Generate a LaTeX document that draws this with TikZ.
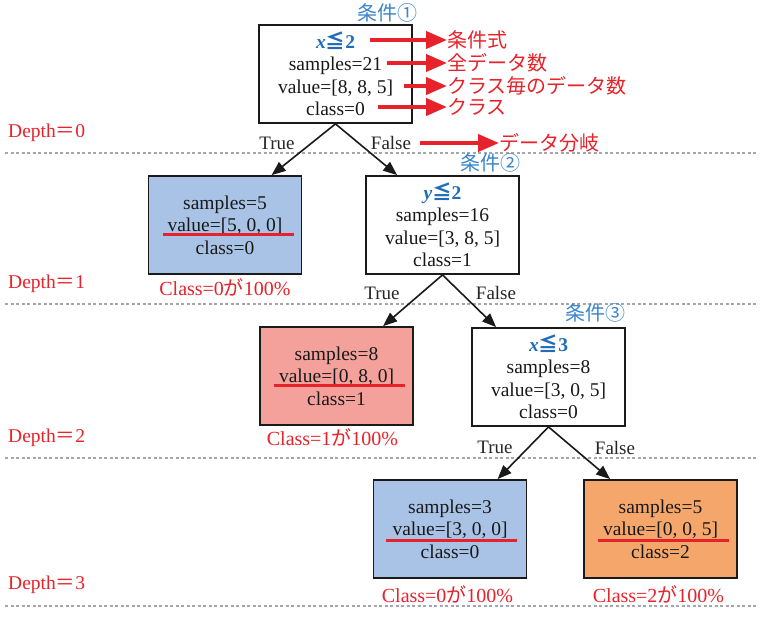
\documentclass[tikz,border=0pt]{standalone}
\usepackage{fontspec}
\setmainfont{Liberation Serif}
\newfontfamily\cjk{Noto Sans CJK JP}
\usetikzlibrary{arrows.meta}
\definecolor{annred}{HTML}{E8222A}
\definecolor{condblue}{HTML}{3A86CC}
\definecolor{formblue}{HTML}{1F6CB8}
\definecolor{leafblue}{HTML}{A9C3E6}
\definecolor{leafpink}{HTML}{F4A19B}
\definecolor{leaforange}{HTML}{F5A76B}
\definecolor{dashgray}{HTML}{A6A6A6}
\definecolor{boxline}{HTML}{1A1A1A}
\newcommand{\formula}[2]{{\color{formblue}\textbf{\textit{#1}}{\cjk\bfseries ≦}\textbf{#2}}}
\begin{document}
\begin{tikzpicture}[x=1pt,y=-1pt,
  treebox/.style={draw=boxline, line width=1.8pt, minimum width=153pt, minimum height=98pt,
    inner sep=0pt, align=center, font=\fontsize{19.5}{22.5}\selectfont, text=black!90},
  edge/.style={draw=boxline, line width=1.6pt, -{Triangle[length=14pt,width=11pt]}},
  annarrow/.style={draw=annred, line width=4pt, -{Triangle[length=21pt,width=17pt]}},
  annlabel/.style={anchor=west, inner sep=0pt, text=annred, font=\cjk\fontsize{20}{22}\selectfont},
  condlabel/.style={inner sep=0pt, text=condblue, font=\cjk\fontsize{20}{22}\selectfont},
  tflabel/.style={inner sep=0pt, text=black!85, font=\fontsize{19}{21}\selectfont},
  clslabel/.style={inner sep=0pt, text=annred, font=\fontsize{20}{22}\selectfont},
  depthlabel/.style={anchor=west, inner sep=0pt, text=annred, font=\fontsize{19.5}{21}\selectfont},
  uline/.style={draw=annred, line width=3pt},
  dashline/.style={draw=dashgray, line width=1.5pt, dash pattern=on 3pt off 2.5pt}
]
\useasboundingbox[fill=white] (0,0) rectangle (768,618);

% level separators
\draw[dashline] (5,153) -- (757,153);
\draw[dashline] (5,304) -- (757,304);
\draw[dashline] (5,458) -- (757,458);
\draw[dashline] (5,606) -- (757,606);

% depth labels
\node[depthlabel] (d0) at (8,133) {Depth{\cjk ＝}0};
\node[depthlabel] (d1) at (8,284) {Depth{\cjk ＝}1};
\node[depthlabel] (d2) at (8,438) {Depth{\cjk ＝}2};
\node[depthlabel] (d3) at (8,585) {Depth{\cjk ＝}3};

% tree nodes
\node[treebox] (root) at (335.5,74) {\formula{x}{2}\\samples=21\\value=[8, 8, 5]\\class=0};
\node[treebox, fill=leafblue] (l1) at (225,225) {samples=5\\value=[5, 0, 0]\\class=0};
\node[treebox] (n2) at (442.5,225) {\formula{y}{2}\\samples=16\\value=[3, 8, 5]\\class=1};
\node[treebox, fill=leafpink] (l2) at (336.5,376) {samples=8\\value=[0, 8, 0]\\class=1};
\node[treebox] (n3) at (548.5,377) {\formula{x}{3}\\samples=8\\value=[3, 0, 5]\\class=0};
\node[treebox, fill=leafblue] (l3) at (450,529) {samples=3\\value=[3, 0, 0]\\class=0};
\node[treebox, fill=leaforange] (l4) at (660.5,529) {samples=5\\value=[0, 0, 5]\\class=2};

% underlines
\draw[uline] ([xshift=-62pt,yshift=-9.5pt]l1.center) -- ([xshift=69pt,yshift=-9.5pt]l1.center);
\draw[uline] ([xshift=-63pt,yshift=-9pt]l2.center) -- ([xshift=68pt,yshift=-9pt]l2.center);
\draw[uline] ([xshift=-64pt,yshift=-11.5pt]l3.center) -- ([xshift=67pt,yshift=-11.5pt]l3.center);
\draw[uline] ([xshift=-63pt,yshift=-11pt]l4.center) -- ([xshift=68pt,yshift=-11pt]l4.center);

% condition labels
\node[condlabel] (c1) at (387,13) {条件①};
\node[condlabel] (c2) at (490,163) {条件②};
\node[condlabel] (c3) at (595,313) {条件③};

% edges
\draw[edge] (root.south) -- ([xshift=124pt]l1.north west);
\draw[edge] (root.south) -- ([xshift=32pt]n2.north west);
\draw[edge] (n2.south) -- ([xshift=124pt]l2.north west);
\draw[edge] (n2.south) -- ([xshift=25pt]n3.north west);
\draw[edge] (n3.south) -- ([xshift=125pt]l3.north west);
\draw[edge] (n3.south) -- ([xshift=27pt]l4.north west);

% True / False labels
\node[tflabel] (t1) at (277,143) {True};
\node[tflabel] (f1) at (391,143) {False};
\node[tflabel] (t2) at (382,293) {True};
\node[tflabel] (f2) at (496,293) {False};
\node[tflabel] (t3) at (495,447) {True};
\node[tflabel] (f3) at (615,448) {False};

% class result labels
\node[clslabel] (r1) at (225,287) {Class=0{\cjk が}100\%};
\node[clslabel] (r2) at (332.5,437) {Class=1{\cjk が}100\%};
\node[clslabel] (r3) at (447.5,594) {Class=0{\cjk が}100\%};
\node[clslabel] (r4) at (658.5,594) {Class=2{\cjk が}100\%};

% annotations
\node[annlabel] (a1) at (447,40) {条件式};
\node[annlabel] (a2) at (447,63) {全データ数};
\node[annlabel] (a3) at (447,86) {クラス毎のデータ数};
\node[annlabel] (a4) at (447,107) {クラス};
\node[annlabel] (a5) at (499,143) {データ分岐};
\coordinate (s1) at (370,40);
\coordinate (s2) at (387,63);
\coordinate (s3) at (404,86);
\coordinate (s4) at (378,107);
\coordinate (s5) at (420,143);
\draw[annarrow] (s1) -- (a1.west);
\draw[annarrow] (s2) -- (a2.west);
\draw[annarrow] (s3) -- (a3.west);
\draw[annarrow] (s4) -- (a4.west);
\draw[annarrow] (s5) -- (a5.west);
\end{tikzpicture}
\end{document}
